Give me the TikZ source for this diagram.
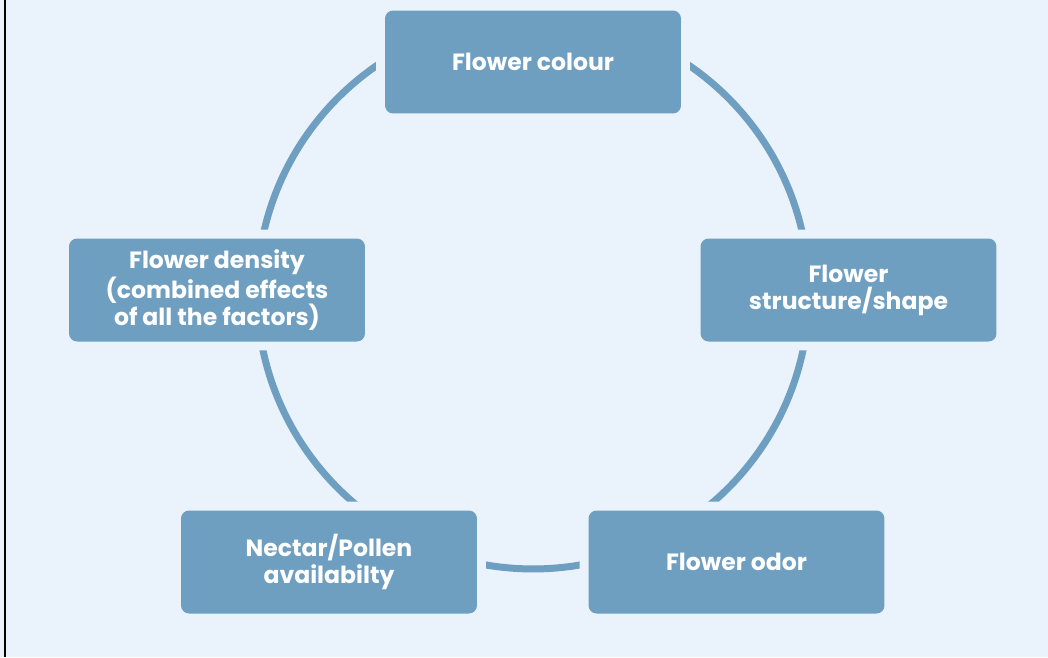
\documentclass[tikz,border=0pt]{standalone}
\usepackage{fontspec}
\setmainfont{Poppins}
\usetikzlibrary{positioning}

\definecolor{pagebg}{RGB}{234,243,252}
\definecolor{boxblue}{RGB}{110,159,193}

\tikzset{
	factor/.style={fill=boxblue, text=white, rounded corners=0.16cm,
		minimum width=5.92cm, minimum height=2.06cm, align=center,
		font=\fontsize{13.4}{15.3}\selectfont\bfseries,
		preaction={draw=pagebg, line width=0.36cm}},
	ring/.style={draw=boxblue, line width=0.14cm}
}

\begin{document}
\begin{tikzpicture}[x=0.02cm,y=-0.02cm]
		\fill[pagebg] (0,0) rectangle (1048,657);
		\useasboundingbox (0,0) rectangle (1048,657);
		\draw[black, line width=0.05cm] (5,0) -- (5,657);

		\coordinate (hub) at (533,293);
		\draw[ring] (hub) circle (5.52cm);

		\node[factor] (colour) at (533,62) {Flower colour};
		\node[factor] (shape) at (848.5,290) {Flower\\structure/shape};
		\node[factor] (odor) at (736.5,562) {Flower odor};
		\node[factor] (nectar) at (329,562) {Nectar/Pollen\\availabilty};
		\node[factor] (density) at (217,290) {Flower density\\(combined effects\\of all the factors)};
	\end{tikzpicture}
\end{document}
